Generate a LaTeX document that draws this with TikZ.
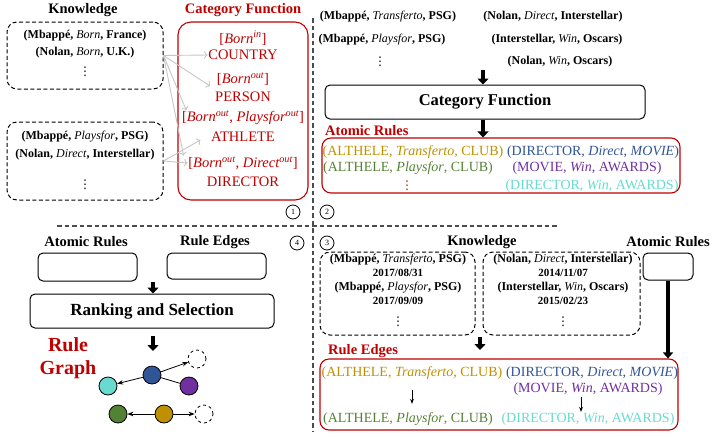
\documentclass[tikz,border=0pt]{standalone}
\usepackage{fontspec}
\setmainfont{Liberation Serif}
\newfontfamily\dotsfont{DejaVu Sans}
\usetikzlibrary{arrows.meta}
\definecolor{cfred}{RGB}{192,0,0}
\definecolor{rgold}{RGB}{191,144,0}
\definecolor{rgreen}{RGB}{84,130,53}
\definecolor{rblue}{RGB}{47,85,151}
\definecolor{rpurple}{RGB}{112,48,160}
\definecolor{rcyan}{RGB}{104,218,208}
\newcommand{\kfact}[3]{\textbf{(#1,} \textit{#2}\textbf{, #3)}}
\newcommand{\vdts}{{\dotsfont\fontsize{12}{12}\selectfont ⋮}}
\begin{document}
\begin{tikzpicture}[x=1pt,y=-1pt]
	\tikzstyle{ttl} = [font=\fontsize{14.5}{16}\selectfont\bfseries, inner sep=1pt]
	\tikzstyle{trp} = [font=\fontsize{12}{14}\selectfont, inner sep=0.5pt]
	\tikzstyle{dte} = [font=\fontsize{11}{13}\selectfont\bfseries, inner sep=0.5pt]
	\tikzstyle{cf} = [font=\fontsize{14.5}{16}\selectfont, text=cfred, inner sep=0.5pt]
	\tikzstyle{rl} = [font=\fontsize{14}{16}\selectfont, inner sep=0.5pt]
	\tikzstyle{dbox} = [draw, dash pattern=on 4pt off 2.5pt, line width=1pt, rounded corners=10]
	\tikzstyle{rbox} = [draw=cfred, line width=1.1pt, rounded corners=9]
	\tikzstyle{bbox} = [draw, line width=1pt, rounded corners=5]
	\tikzstyle{blk} = [line width=4pt, -{Triangle[width=11pt,length=6pt]}]
	\tikzstyle{cn} = [draw, circle, line width=0.8pt, minimum size=14, inner sep=0, font=\fontsize{8}{8}\selectfont]
	\tikzstyle{g} = [draw, circle, line width=0.8pt, minimum size=18, inner sep=0]
	\tikzstyle{sep} = [line width=1.2pt, gray!60!black, dash pattern=on 4.5pt off 3pt]
	\tikzstyle{ga} = [->, gray!45, line width=0.9pt]
	\useasboundingbox (0,0) rectangle (712,437);

	% (1) knowledge -> category function
	\node [ttl] (kt) at (83,10) {Knowledge};
	\node [dbox, minimum width=156, minimum height=67] (k1) at (85,55.5) {};
	\node [trp] (k11) at (85,36) {\kfact{Mbappé}{Born}{France}};
	\node [trp] (k12) at (85,53) {\kfact{Nolan}{Born}{U.K.}};
	\node [trp] (k13) at (85,72) {\vdts};
	\node [dbox, minimum width=156, minimum height=78] (k2) at (85,161) {};
	\node [trp] (k21) at (85,137) {\kfact{Mbappé}{Playsfor}{PSG}};
	\node [trp] (k22) at (85,155) {\kfact{Nolan}{Direct}{Interstellar}};
	\node [trp] (k23) at (85,185) {\vdts};

	\node [ttl, text=cfred] (cft) at (243,10) {Category Function};
	\node [rbox, rounded corners=13, minimum width=130, minimum height=178] (cfb) at (243,111) {};
	\node [cf] (cb1) at (243,38) {[\textit{Born\textsuperscript{in}}]};
	\node [cf] (cc1) at (243,55) {COUNTRY};
	\node [cf] (cb2) at (243,79) {[\textit{Born\textsuperscript{out}}]};
	\node [cf] (cc2) at (243,97) {PERSON};
	\node [cf] (cb3) at (243,118) {[\textit{Born\textsuperscript{out}}, \textit{Playsfor\textsuperscript{out}}]};
	\node [cf] (cc3) at (243,137) {ATHLETE};
	\node [cf] (cb4) at (243,163) {[\textit{Born\textsuperscript{out}}, \textit{Direct\textsuperscript{out}}]};
	\node [cf] (cc4) at (243,182) {DIRECTOR};

	\draw [ga] (k1.east) -- (cc1.west);
	\draw [ga] (k1.east) -- ([xshift=-6]cb2.south west);
	\draw [ga] (k1.east) -- ([xshift=5]cb3.north west);
	\draw [ga] (k1.east) -- ([xshift=-4]cb4.north west);
	\draw [ga] (k2.east) -- ([xshift=-10,yshift=-3]cc3.west);
	\draw [ga] (k2.east) -- (cb4.west);

	% (2) category function -> atomic rules
	\node [trp] (t1) at (388,17) {\kfact{Mbappé}{Transferto}{PSG}};
	\node [trp] (t2) at (382,40) {\kfact{Mbappé}{Playsfor}{PSG}};
	\node [trp] (t3) at (380,62) {\vdts};
	\node [trp] (t4) at (553,17) {\kfact{Nolan}{Direct}{Interstellar}};
	\node [trp] (t5) at (557,40) {\kfact{Interstellar}{Win}{Oscars}};
	\node [trp] (t6) at (560,62) {\kfact{Nolan}{Win}{Oscars}};
	\node [bbox, minimum width=320, minimum height=34, font=\fontsize{16.5}{18}\selectfont\bfseries] (cat) at (485,102) {Category Function};
	\coordinate (a1) at (483,70);
	\draw [blk] (a1) -- (a1 |- cat.north);
	\node [ttl, text=cfred, anchor=west] (art) at (324,131) {Atomic Rules};
	\node [rbox, minimum width=358, minimum height=55] (ar) at (501,165.5) {};
	\draw [blk] (cat.south -| a1) -- (ar.north -| a1);
	\node [rl, text=rgold] (ar1) at (413,152) {(ALTHELE, \textit{Transferto}, CLUB)};
	\node [rl, text=rblue] (ar2) at (593,152) {(DIRECTOR, \textit{Direct}, \textit{MOVIE})};
	\node [rl, text=rgreen] (ar3) at (408,168) {(ALTHELE, \textit{Playsfor}, CLUB)};
	\node [rl, text=rpurple] (ar4) at (587,168) {(MOVIE, \textit{Win}, AWARDS)};
	\node [rl, text=cfred] (ar5) at (407,186) {\vdts};
	\node [rl, text=rcyan] (ar6) at (592,186) {(DIRECTOR, \textit{Win}, AWARDS)};

	% separators
	\draw [sep] (313,18) -- (313,432);
	\draw [sep] (57,226) -- (557,226);
	\node [cn] (n1) at (293,212) {1};
	\node [cn] (n2) at (327,212) {2};
	\node [cn] (n4) at (297,243) {4};
	\node [cn] (n3) at (327,243) {3};

	% (4) ranking and selection
	\node [ttl] (lat) at (86,242) {Atomic Rules};
	\node [ttl] (let) at (215,242) {Rule Edges};
	\node [bbox, minimum width=99, minimum height=28] (e1) at (87.5,267) {};
	\node [bbox, minimum width=99, minimum height=26] (e2) at (216.5,266) {};
	\node [bbox, minimum width=244, minimum height=34, font=\fontsize{17}{19}\selectfont\bfseries] (rs) at (152,311) {Ranking and Selection};
	\coordinate (a3) at (153,282);
	\draw [blk] (a3) -- (a3 |- rs.north);
	\coordinate (a4) at (153,336);
	\draw [blk] (a4) -- (153,351);
	\node [font=\fontsize{20}{23}\selectfont\bfseries, text=cfred, align=center] (rg) at (68,358) {Rule\\Graph};
	\node [g, fill=rblue] (gb) at (152,375) {};
	\node [g, fill=rcyan] (gc) at (108,386) {};
	\node [g, dashed, fill=white] (gd1) at (197,359) {};
	\node [g, fill=rpurple] (gp) at (189,386) {};
	\node [g, fill=rgreen] (gg) at (118,414) {};
	\node [g, fill=rgold] (gy) at (164,414) {};
	\node [g, dashed, fill=white] (gd2) at (204,414) {};
	\draw [-{Stealth[length=6pt]}, line width=0.8pt] (gb) -- (gc);
	\draw [-{Stealth[length=6pt]}, line width=0.8pt] (gb) -- (gd1);
	\draw [line width=0.8pt] (gb) -- (gp);
	\draw [-{Stealth[length=6pt]}, line width=0.8pt] (gy) -- (gg);
	\draw [-{Stealth[length=6pt]}, line width=0.8pt] (gy) -- (gd2);

	% (3) knowledge -> rule edges
	\node [ttl] (kt2) at (482,242) {Knowledge};
	\node [ttl] (at2) at (668,242) {Atomic Rules};
	\node [dbox, minimum width=155, minimum height=83] (b1) at (397.5,293.5) {};
	\node [dbox, minimum width=157, minimum height=83] (b2) at (561.5,293.5) {};
	\node [trp] (b11) at (398,260) {\kfact{Mbappé}{Transferto}{PSG}};
	\node [dte] (b12) at (398,273) {2017/08/31};
	\node [trp] (b13) at (398,288) {\kfact{Mbappé}{Playsfor}{PSG}};
	\node [dte] (b14) at (398,301) {2017/09/09};
	\node [trp] (b15) at (398,322) {\vdts};
	\node [trp] (b21) at (563,260) {\kfact{Nolan}{Direct}{Interstellar}};
	\node [dte] (b22) at (563,273) {2014/11/07};
	\node [trp] (b23) at (563,288) {\kfact{Interstellar}{Win}{Oscars}};
	\node [dte] (b24) at (563,301) {2015/02/23};
	\node [trp] (b25) at (563,322) {\vdts};
	\node [bbox, minimum width=50, minimum height=27] (sa) at (668,266.5) {};
	\node [ttl, text=cfred, anchor=west] (ret) at (327,351) {Rule Edges};
	\node [rbox, minimum width=358, minimum height=71] (re) at (499,394.5) {};
	\draw [line width=3.5pt, -{Triangle[width=10pt,length=6pt]}] (sa.south) -- (sa.south |- re.north);
	\coordinate (a5) at (480,337);
	\draw [blk] (a5) -- (480,350);
	\node [rl, text=rgold] (re1) at (412,373) {(ALTHELE, \textit{Transferto}, CLUB)};
	\node [rl, text=rblue] (re2) at (592,373) {(DIRECTOR, \textit{Direct}, \textit{MOVIE})};
	\node [rl, text=rpurple] (re3) at (588,389) {(MOVIE, \textit{Win}, AWARDS)};
	\node [rl, text=rgreen] (re4) at (408,419) {(ALTHELE, \textit{Playsfor}, CLUB)};
	\node [rl, text=rcyan] (re5) at (588,419) {(DIRECTOR, \textit{Win}, AWARDS)};
	\draw [-{Stealth[length=5pt]}, line width=0.8pt, shorten <=10pt, shorten >=8pt] (re1.south) -- (re1.south |- re4.north);
	\draw [-{Stealth[length=5pt]}, line width=0.8pt, shorten <=1pt] ([xshift=-7]re3.south) -- ([xshift=-7]re3.south |- re5.north);
\end{tikzpicture}
\end{document}
